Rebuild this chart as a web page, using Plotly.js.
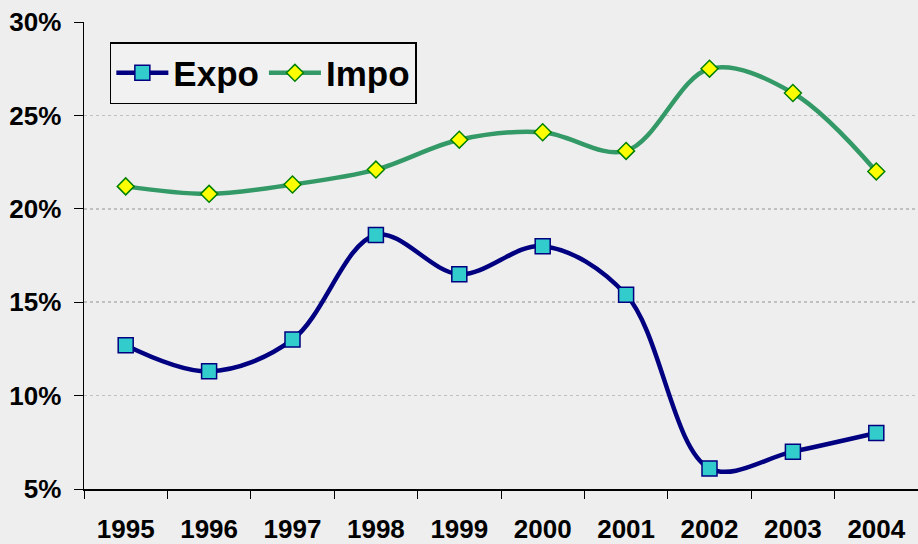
<!DOCTYPE html>
<html>
<head>
<meta charset="utf-8">
<script src="https://cdn.plot.ly/plotly-3.0.1.min.js"></script>
<style>html,body{margin:0;padding:0;background:#eeeeee;}#chart{width:918px;height:544px;}</style>
</head>
<body>
<div id="chart"></div>
<script>
const years = ['1995','1996','1997','1998','1999','2000','2001','2002','2003','2004'];
const expo = [12.7, 11.3, 13.0, 18.6, 16.5, 18.0, 15.4, 6.1, 7.0, 8.0];
const impo = [21.2, 20.8, 21.3, 22.1, 23.7, 24.1, 23.1, 27.5, 26.2, 22.0];

const FONT = 'Arial, "Liberation Sans", sans-serif';

const traces = [
  {
    x: years, y: expo, name: 'Expo', type: 'scatter', mode: 'lines+markers',
    line: {color: '#000080', width: 4.5, shape: 'spline'},
    marker: {symbol: 'square', size: 15, color: '#33cccc', line: {color: '#000080', width: 1.5}}
  },
  {
    x: years, y: impo, name: 'Impo', type: 'scatter', mode: 'lines+markers',
    line: {color: '#339966', width: 4.5, shape: 'spline'},
    marker: {symbol: 'diamond', size: 13, color: '#ffff00', line: {color: '#008000', width: 1.5}}
  }
];

const layout = {
  width: 918, height: 544,
  margin: {l: 84, r: 0, t: 22, b: 55},
  paper_bgcolor: '#eeeeee', plot_bgcolor: '#eeeeee',
  font: {family: FONT, color: '#000000'},
  showlegend: true,
  legend: {
    orientation: 'h', x: 0.031, y: 0.957, xanchor: 'left', yanchor: 'top',
    bgcolor: '#f1f1f1', bordercolor: '#000000', borderwidth: 1.5,
    font: {family: FONT, size: 35, weight: 'bold'}, itemwidth: 52
  },
  xaxis: {
    type: 'category', range: [-0.5, 9.5], tickson: 'boundaries', ticks: 'outside', ticklen: 8,
    tickcolor: '#000', showline: true, linecolor: '#000', linewidth: 1.5,
    showgrid: false, zeroline: false, ticklabelstandoff: 16, automargin: false,
    tickfont: {family: FONT, size: 26, weight: 'bold'}
  },
  yaxis: {
    range: [5, 30], dtick: 5, ticksuffix: '%', ticks: 'outside', ticklen: 9,
    tickcolor: '#000', showline: true, linecolor: '#000', linewidth: 1.5,
    showgrid: true, gridcolor: '#c0c0c0', griddash: 'dot', gridwidth: 1.5,
    zeroline: false, ticklabelstandoff: 7, automargin: false,
    tickfont: {family: FONT, size: 26, weight: 'bold'}
  }
};

Plotly.newPlot('chart', traces, layout, {displayModeBar: false, staticPlot: true});
</script>
</body>
</html>
